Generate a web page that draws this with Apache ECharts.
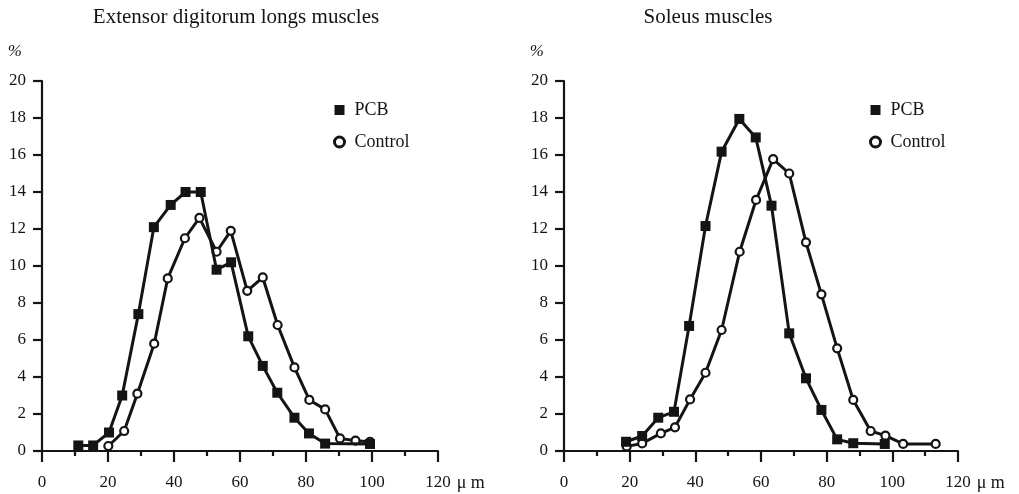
<!DOCTYPE html>
<html>
<head>
<meta charset="utf-8">
<script src="https://cdn.jsdelivr.net/npm/echarts@6/dist/echarts.min.js"></script>
<style>html,body{margin:0;padding:0;background:#fff}#c{width:1019px;height:494px}</style>
</head>
<body>
<div id="c"></div>
<script>
// ---- data ----
const titles = ['Extensor digitorum longs muscles', 'Soleus muscles'];
const seriesNames = ['PCB', 'Control'];
const xTicks = [0, 20, 40, 60, 80, 100, 120];
const yTicks = [0, 2, 4, 6, 8, 10, 12, 14, 16, 18, 20];

const edlPcbX  = [11, 15.5, 20.3, 24.3, 29.2, 33.9, 39, 43.5, 48.1, 52.9, 57.3, 62.5, 66.9, 71.3, 76.5, 80.9, 85.8, 99.4];
const edlPcbY  = [0.3, 0.3, 1.0, 3.0, 7.4, 12.1, 13.3, 14.0, 14.0, 9.8, 10.2, 6.2, 4.6, 3.15, 1.8, 0.95, 0.4, 0.38];
const edlCtrlX = [20.1, 24.9, 28.9, 34.0, 38.1, 43.3, 47.7, 52.9, 57.2, 62.2, 66.9, 71.4, 76.5, 81.0, 85.8, 90.3, 95.0, 99.4];
const edlCtrlY = [0.27, 1.08, 3.1, 5.8, 9.33, 11.5, 12.6, 10.77, 11.9, 8.66, 9.38, 6.81, 4.52, 2.76, 2.25, 0.68, 0.56, 0.5];

const solPcbX  = [18.9, 23.8, 28.7, 33.5, 38.1, 43.1, 48.0, 53.4, 58.4, 63.2, 68.6, 73.7, 78.4, 83.2, 88.1, 97.7];
const solPcbY  = [0.5, 0.81, 1.8, 2.12, 6.76, 12.16, 16.18, 17.95, 16.95, 13.26, 6.36, 3.93, 2.22, 0.63, 0.42, 0.38];
const solCtrlX = [19.1, 23.8, 29.5, 33.8, 38.4, 43.1, 48.0, 53.5, 58.5, 63.7, 68.6, 73.7, 78.4, 83.2, 88.1, 93.4, 97.9, 103.3, 113.2];
const solCtrlY = [0.25, 0.41, 0.95, 1.28, 2.79, 4.23, 6.54, 10.77, 13.57, 15.78, 15.0, 11.28, 8.47, 5.55, 2.76, 1.08, 0.83, 0.38, 0.38];

// ---- build ----
const FONT = 'Liberation Serif';
const INK = '#141414';
const zip = (xs, ys) => xs.map((x, i) => [x, ys[i]]);

const grids = [
  { left: 42, right: 581, top: 81, bottom: 43 },
  { left: 564, right: 61, top: 81, bottom: 43 }
];
const titleCenters = [236, 708];
const legendLefts = [333, 869];

function xAxis(i) {
  return {
    type: 'value', gridIndex: i,
    min: xTicks[0], max: xTicks[xTicks.length - 1], interval: 20,
    name: 'μ m', nameLocation: 'end', nameGap: 13,
    nameTextStyle: { fontFamily: FONT, fontSize: 18, color: INK, verticalAlign: 'top', padding: [23, 0, 0, 0] },
    axisLine: { show: true, onZero: false, lineStyle: { color: INK, width: 2.2 } },
    axisTick: { show: true, length: 11, lineStyle: { color: INK, width: 2.2 } },
    minorTick: { show: true, splitNumber: 2, length: 5, lineStyle: { color: INK, width: 2.2 } },
    splitLine: { show: false },
    axisLabel: { fontFamily: FONT, fontSize: 17, color: INK, margin: 23 }
  };
}
function yAxis(i) {
  return {
    type: 'value', gridIndex: i,
    min: yTicks[0], max: yTicks[yTicks.length - 1], interval: 2,
    name: '%', nameLocation: 'end', nameGap: 29,
    nameTextStyle: { fontFamily: FONT, fontSize: 17, fontStyle: 'italic', color: INK, align: 'right', verticalAlign: 'middle', padding: [0, 20, 0, 0] },
    axisLine: { show: true, onZero: false, lineStyle: { color: INK, width: 2.2 } },
    axisTick: { show: true, length: 9, lineStyle: { color: INK, width: 2.2 } },
    splitLine: { show: false },
    axisLabel: { fontFamily: FONT, fontSize: 17, color: INK, margin: 16 }
  };
}
function pcb(i, xs, ys) {
  return {
    name: seriesNames[0], type: 'line', xAxisIndex: i, yAxisIndex: i,
    data: zip(xs, ys), symbol: 'rect', symbolSize: 10,
    itemStyle: { color: INK },
    lineStyle: { color: INK, width: 3 },
    emphasis: { disabled: true }, animation: false, z: 3
  };
}
function ctrl(i, xs, ys) {
  return {
    name: seriesNames[1], type: 'line', xAxisIndex: i, yAxisIndex: i,
    data: zip(xs, ys), symbol: 'circle', symbolSize: 8,
    itemStyle: { color: '#fff', borderColor: INK, borderWidth: 2.2 },
    lineStyle: { color: INK, width: 3 },
    emphasis: { disabled: true }, animation: false, z: 2
  };
}

const option = {
  animation: false,
  backgroundColor: '#fff',
  title: titles.map((t, i) => ({
    text: t, left: titleCenters[i], top: 7, textAlign: 'center', padding: 0,
    textStyle: { fontFamily: FONT, fontSize: 21, fontWeight: 'normal', color: INK }
  })),
  legend: legendLefts.map(l => ({
    left: l, top: 101, orient: 'vertical', padding: 0,
    itemWidth: 10, itemHeight: 10, itemGap: 14,
    textStyle: { fontFamily: FONT, fontSize: 18, color: INK, padding: [0, 0, 0, 5] },
    selectedMode: false,
    data: [
      { name: seriesNames[0], icon: 'rect', itemStyle: { color: INK } },
      { name: seriesNames[1], icon: 'circle', itemWidth: 8, itemHeight: 8, itemStyle: { color: '#fff', borderColor: INK, borderWidth: 3 } }
    ]
  })),
  grid: grids,
  xAxis: [xAxis(0), xAxis(1)],
  yAxis: [yAxis(0), yAxis(1)],
  series: [
    pcb(0, edlPcbX, edlPcbY), ctrl(0, edlCtrlX, edlCtrlY),
    pcb(1, solPcbX, solPcbY), ctrl(1, solCtrlX, solCtrlY)
  ]
};
const chart = echarts.init(document.getElementById('c'), null, { renderer: 'canvas' });
chart.setOption(option);
</script>
</body>
</html>
